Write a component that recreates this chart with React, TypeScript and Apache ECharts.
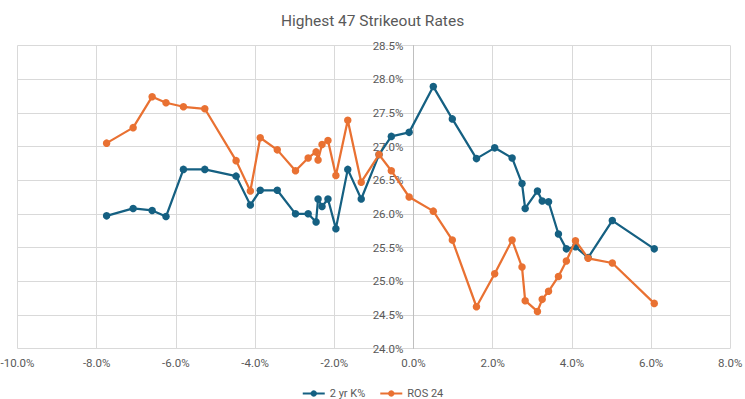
import React, { useEffect, useRef } from "react";
import * as echarts from "echarts";

const xValues = [
  -7.75, -7.08, -6.6, -6.25, -5.81, -5.27, -4.48, -4.12, -3.87, -3.44,
  -2.98, -2.66, -2.46, -2.41, -2.31, -2.16, -1.96, -1.66, -1.32, -0.87,
  -0.56, -0.11, 0.5, 0.98, 1.59, 2.05, 2.49, 2.74, 2.82, 3.13,
  3.25, 3.41, 3.66, 3.86, 4.09, 4.41, 5.02, 6.08,
];
const k2yr = [
  25.97, 26.08, 26.05, 25.96, 26.66, 26.66, 26.56, 26.13, 26.35, 26.35,
  26.0, 26.0, 25.88, 26.22, 26.11, 26.22, 25.78, 26.66, 26.22, 26.88,
  27.15, 27.21, 27.89, 27.41, 26.82, 26.98, 26.83, 26.45, 26.08, 26.34,
  26.19, 26.18, 25.7, 25.48, 25.51, 25.35, 25.9, 25.48,
];
const ros24 = [
  27.05, 27.28, 27.74, 27.65, 27.59, 27.56, 26.79, 26.34, 27.13, 26.95,
  26.64, 26.83, 26.92, 26.8, 27.03, 27.09, 26.57, 27.39, 26.47, 26.88,
  26.64, 26.25, 26.04, 25.61, 24.62, 25.11, 25.61, 25.21, 24.71, 24.55,
  24.73, 24.85, 25.07, 25.3, 25.6, 25.34, 25.27, 24.67,
];
const seriesNames = ["2 yr K%", "ROS 24"];
const titleText = "Highest 47 Strikeout Rates";

const FONT = "Roboto, 'Liberation Sans', sans-serif";
const TEXT = "#595959";
const GRID_LEFT = 17.5;
const GRID_RIGHT = 14.7;
const X_MIN = -0.1;
const X_MAX = 0.08;

export default function App() {
  const ref = useRef<HTMLDivElement>(null);
  useEffect(() => {
    if (!ref.current) return;
    const chart = echarts.init(ref.current, undefined, { renderer: "svg" });
    const toPairs = (ys: number[]) =>
      xValues.map((x, i) => [x / 100, ys[i] / 100]);
    const plotW = 745 - GRID_LEFT - GRID_RIGHT;
    const zeroOffset = (-X_MIN / (X_MAX - X_MIN)) * plotW;
    chart.setOption({
      animation: false,
      backgroundColor: "#ffffff",
      textStyle: { fontFamily: FONT },
      title: {
        text: titleText,
        left: "center",
        top: 8,
        textStyle: {
          fontFamily: FONT,
          fontSize: 15.5,
          fontWeight: "normal",
          color: TEXT,
        },
      },
      grid: {
        left: GRID_LEFT,
        right: GRID_RIGHT,
        top: 45.5,
        bottom: 50.5,
        containLabel: false,
        outerBoundsMode: "none",
      },
      legend: {
        top: 383,
        left: "center",
        itemWidth: 22,
        itemHeight: 8,
        itemGap: 14,
        textStyle: { fontFamily: FONT, fontSize: 11, color: TEXT },
        data: seriesNames,
      },
      xAxis: {
        type: "value",
        min: X_MIN,
        max: X_MAX,
        interval: 0.02,
        position: "bottom",
        axisLine: { show: false, onZero: false },
        axisTick: { show: false },
        splitLine: { show: true, lineStyle: { color: "#D9D9D9", width: 1 } },
        axisLabel: {
          color: TEXT,
          fontSize: 11.5,
          fontFamily: FONT,
          margin: 8,
          formatter: (v: number) => (v * 100).toFixed(1) + "%",
        },
      },
      yAxis: {
        type: "value",
        min: 0.24,
        max: 0.285,
        interval: 0.005,
        position: "left",
        offset: -zeroOffset,
        axisLine: { show: true, onZero: false, lineStyle: { color: "#BFBFBF", width: 1 } },
        axisTick: { show: false },
        splitLine: { show: true, lineStyle: { color: "#D9D9D9", width: 1 } },
        axisLabel: {
          color: TEXT,
          fontSize: 11.5,
          fontFamily: FONT,
          margin: 10,
          formatter: (v: number) => (v * 100).toFixed(1) + "%",
        },
      },
      series: [
        {
          name: seriesNames[0],
          type: "line",
          data: toPairs(k2yr),
          color: "#156082",
          symbol: "circle",
          symbolSize: 7.5,
          lineStyle: { width: 2.25, color: "#156082" },
          itemStyle: { color: "#156082" },
          z: 2,
        },
        {
          name: seriesNames[1],
          type: "line",
          data: toPairs(ros24),
          color: "#E97132",
          symbol: "circle",
          symbolSize: 7.5,
          lineStyle: { width: 2.25, color: "#E97132" },
          itemStyle: { color: "#E97132" },
          z: 3,
        },
      ],
    });
    return () => chart.dispose();
  }, []);
  return <div ref={ref} style={{ width: 745, height: 399, position: "absolute", left: 0, top: 0 }} />;
}
